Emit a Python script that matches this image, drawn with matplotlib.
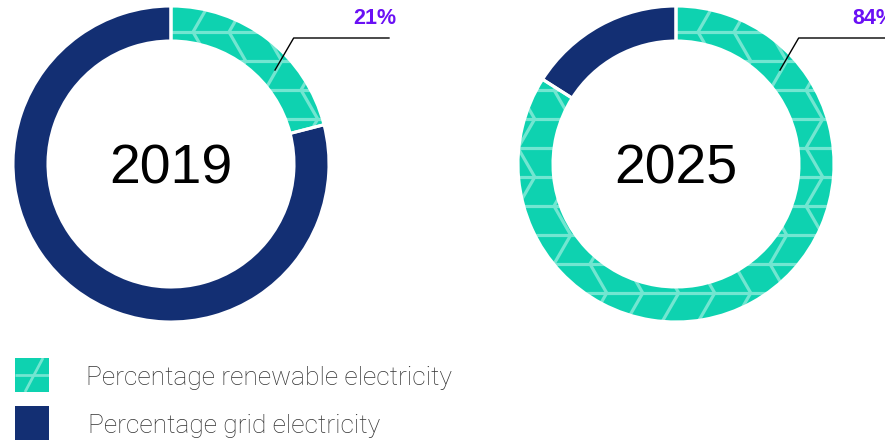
import numpy as np
import matplotlib
matplotlib.use("Agg")
import matplotlib.pyplot as plt
from matplotlib.collections import LineCollection
from matplotlib.patches import Rectangle, Wedge

# Data
years = ["2019", "2025"]
renewable_pct = [21, 84]
grid_pct = [79, 16]
legend_labels = ["Percentage renewable electricity", "Percentage grid electricity"]

TEAL = "#0ed2b0"
NAVY = "#132f73"
PATTERN = "#72e6d1"
PURPLE = "#6a10f5"

W, H = 885, 446
fig = plt.figure(figsize=(W / 100, H / 100), dpi=100)
ax = fig.add_axes([0, 0, 1, 1])

centers = [(171, 282), (676, 282)]
label_x = [353, 852]
R_OUT = 158
RING = 35


def pattern_lines(x0, y0, x1, y1, band=29, step=36):
    """Horizontal rules with alternating diagonal strokes (zigzag lattice)."""
    segs = []
    ys = np.arange(y0, y1 + band, band)
    dx = band / np.tan(np.radians(60))
    for i, y in enumerate(ys):
        segs.append([(x0, y), (x1, y)])
        for x in np.arange(x0 - step, x1 + step, step):
            if i % 2 == 0:
                segs.append([(x, y), (x + dx, y + band)])
            else:
                segs.append([(x + dx, y), (x, y + band)])
    return segs


for (cx, cy), year, ren, grid, lx in zip(centers, years, renewable_pct,
                                         grid_pct, label_x):
    wedges, _ = ax.pie(
        [ren, grid],
        colors=[TEAL, NAVY],
        startangle=90,
        counterclock=False,
        radius=R_OUT,
        center=(cx, cy),
        wedgeprops=dict(width=RING, edgecolor="none", linewidth=0),
        frame=True,
    )
    # Light lattice on the renewable slice
    lc = LineCollection(
        pattern_lines(cx - R_OUT, cy - R_OUT, cx + R_OUT, cy + R_OUT),
        colors=PATTERN, linewidths=2.3, zorder=wedges[0].get_zorder() + 0.1,
    )
    ax.add_collection(lc)
    lc.set_clip_path(wedges[0])
    # White separators between slices
    for w in wedges:
        ax.add_patch(Wedge(w.center, w.r, w.theta1, w.theta2, width=w.width,
                           facecolor="none", edgecolor="white", linewidth=2.2,
                           zorder=3))

    ax.text(cx, cy, year, ha="center", va="center_baseline",
            fontsize=40, family="Liberation Sans", color="black")

    # Leader line and value label
    ang = np.radians(90 - 48)
    r_mid = R_OUT - RING / 2 - 1
    px, py = cx + r_mid * np.cos(ang), cy + r_mid * np.sin(ang)
    kx, ky = px + 19, cy + 126
    ax.plot([px, kx, min(kx + 96, W)], [py, ky, ky],
            color="black", linewidth=1.0, zorder=4, solid_capstyle="butt")
    ax.text(lx, cy + 146, f"{ren}%", ha="left", va="center",
            fontsize=15.5, fontweight="bold", family="Liberation Sans",
            color=PURPLE, zorder=5)

# Legend
sw = 34
legend_y = [446 - 375, 446 - 423]
legend_x = 15
sw0 = Rectangle((legend_x, legend_y[0] - sw / 2), sw, sw, facecolor=TEAL,
                edgecolor="none", zorder=2)
ax.add_patch(sw0)
lc = LineCollection(
    [[(legend_x, legend_y[0]), (legend_x + sw, legend_y[0])],
     [(legend_x + 10, legend_y[0] - sw / 2), (legend_x + 28, legend_y[0] + sw / 2)]],
    colors=PATTERN, linewidths=2.0, zorder=3)
ax.add_collection(lc)
lc.set_clip_path(sw0)
ax.add_patch(Rectangle((legend_x, legend_y[1] - sw / 2), sw, sw, facecolor=NAVY,
                       edgecolor="none", zorder=2))
for y, lab, x in zip(legend_y, legend_labels, [86, 88]):
    ax.text(x, y - 3, lab, ha="left", va="center", fontsize=19,
            family="Roboto", fontweight="light", color="#333333")

ax.set_xlim(0, W)
ax.set_ylim(0, H)
ax.set_aspect("auto")
ax.axis("off")

fig.savefig("out.png", dpi=100)
